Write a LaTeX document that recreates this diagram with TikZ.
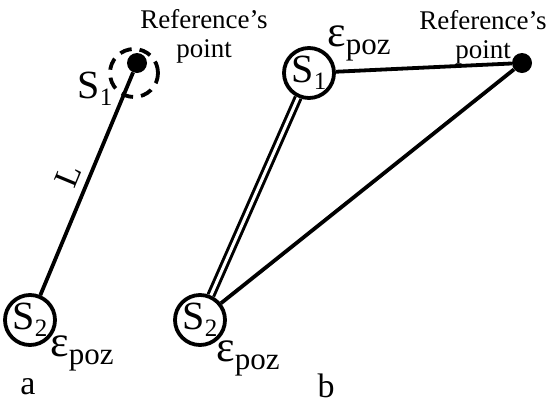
\documentclass[tikz,border=0pt]{standalone}
\usepackage{fontspec}
\setmainfont{Liberation Serif}
\newcommand{\lowsub}[1]{\raisebox{-0.18em}{\fontsize{25}{25}\selectfont #1}}
\newcommand{\epspoz}{{\fontsize{44}{44}\selectfont ε}\raisebox{-8pt}{\fontsize{31}{31}\selectfont poz}}

\begin{document}
\begin{tikzpicture}[x=1pt, y=-1pt,
    sensor/.style ={circle, draw, line width=3.8pt, minimum size=50pt, inner sep=0pt, font=\fontsize{40}{40}\selectfont},
    refpoint/.style ={circle, fill, minimum size=20pt, inner sep=0pt},
    zone/.style ={circle, draw, line width=3.8pt, dash pattern=on 12pt off 8pt, minimum size=48pt, inner sep=0pt},
    caption/.style ={align=center, font=\fontsize{27}{29}\selectfont},
    label/.style ={font=\fontsize{40}{40}\selectfont, inner sep=0pt}]
   \useasboundingbox (0,0) rectangle (549,405);

   \node[refpoint] (Ra)  at (137,63)  {};
   \node[zone]     (Za)  at (134,73)  {};
   \node[sensor]   (S2a) at (30,320)  {S\lowsub{2}};
   \node[caption]  (Ta)  at (204,36)  {Reference’s\\point};
   \node[label]    (S1a) at (95,89)   {S\lowsub{1}};
   \node[inner sep=0pt] (Ea) at (82,353) {\epspoz};
   \node[label, font=\fontsize{34}{34}\selectfont] (a) at (28,387) {a};

   \node[refpoint] (Rb)  at (522,63)  {};
   \node[sensor]   (S1b) at (309,73)  {S\lowsub{1}};
   \node[sensor]   (S2b) at (200,320) {S\lowsub{2}};
   \node[caption]  (Tb)  at (483,37)  {Reference’s\\point};
   \node[inner sep=0pt] (Eb) at (359,43)  {\epspoz};
   \node[inner sep=0pt] (Ec) at (248,358) {\epspoz};
   \node[label, font=\fontsize{34}{34}\selectfont] (b) at (326,386) {b};

   \draw[line width=3.8pt] (S2a) to node[sloped, above=4pt, font=\fontsize{34}{34}\selectfont] (L) {L} (Ra);
   \draw[line width=3.8pt] (S1b) to (Rb);
   \draw[line width=3.8pt] (S2b) to (Rb);
   \draw[line width=3pt, double, double distance=3pt] (S2b) to (S1b);

 \end{tikzpicture}
\end{document}
